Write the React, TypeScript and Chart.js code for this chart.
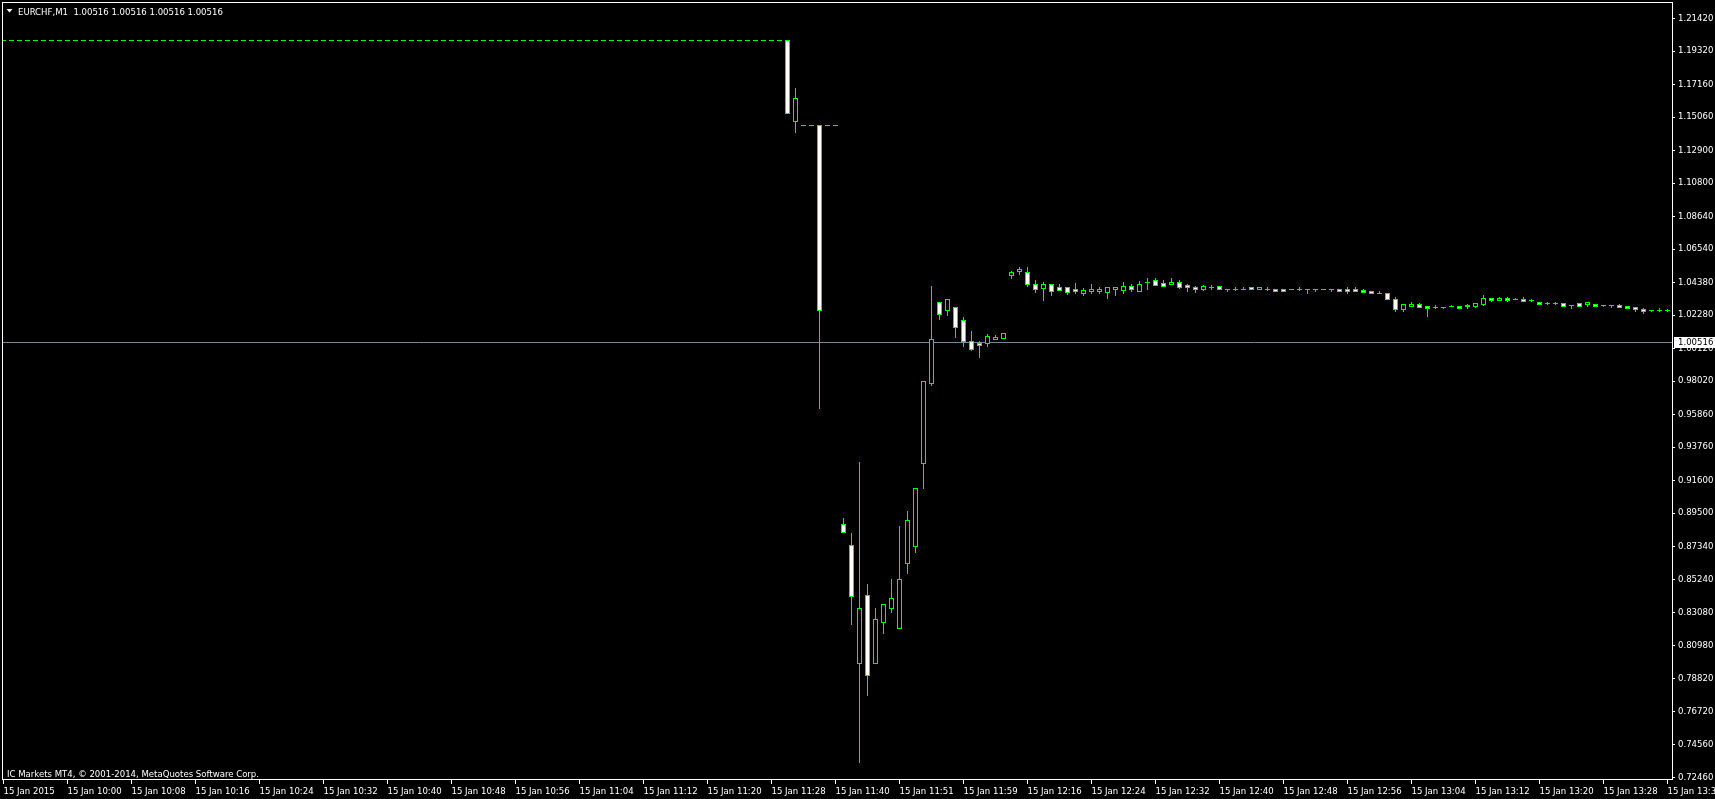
import React, { useEffect, useRef } from 'react';
import { Chart, registerables } from 'chart.js';

Chart.register(...registerables);

const SYMBOL_TITLE = 'EURCHF,M1  1.00516 1.00516 1.00516 1.00516';
const COPYRIGHT = 'IC Markets MT4, © 2001-2014, MetaQuotes Software Corp.';
const BID = 1.00516;

const TIME_LABELS = [
  '15 Jan 2015', '15 Jan 10:00', '15 Jan 10:08', '15 Jan 10:16', '15 Jan 10:24', '15 Jan 10:32',
  '15 Jan 10:40', '15 Jan 10:48', '15 Jan 10:56', '15 Jan 11:04', '15 Jan 11:12', '15 Jan 11:20',
  '15 Jan 11:28', '15 Jan 11:40', '15 Jan 11:51', '15 Jan 11:59', '15 Jan 12:16', '15 Jan 12:24',
  '15 Jan 12:32', '15 Jan 12:40', '15 Jan 12:48', '15 Jan 12:56', '15 Jan 13:04', '15 Jan 13:12',
  '15 Jan 13:20', '15 Jan 13:28', '15 Jan 13:36',
];
const BARS_PER_LABEL = 8;

const Y_TICKS = [
  1.2142, 1.1932, 1.1716, 1.1506, 1.129, 1.108, 1.0864, 1.0654, 1.0438, 1.0228, 1.0012, 0.9802,
  0.9586, 0.9376, 0.916, 0.895, 0.8734, 0.8524, 0.8308, 0.8098, 0.7882, 0.7672, 0.7456, 0.7246,
];
const Y_MIN = 0.72333;
const Y_MAX = 1.2242;

const OPEN = [
  1.2003, 1.2003, 1.2003, 1.2003, 1.2003, 1.2003, 1.2003, 1.2003, 1.2003, 1.2003, 1.2003, 1.2003, 1.2003, 1.2003,
  1.2003, 1.2003, 1.2003, 1.2003, 1.2003, 1.2003, 1.2003, 1.2003, 1.2003, 1.2003, 1.2003, 1.2003, 1.2003, 1.2003,
  1.2003, 1.2003, 1.2003, 1.2003, 1.2003, 1.2003, 1.2003, 1.2003, 1.2003, 1.2003, 1.2003, 1.2003, 1.2003, 1.2003,
  1.2003, 1.2003, 1.2003, 1.2003, 1.2003, 1.2003, 1.2003, 1.2003, 1.2003, 1.2003, 1.2003, 1.2003, 1.2003, 1.2003,
  1.2003, 1.2003, 1.2003, 1.2003, 1.2003, 1.2003, 1.2003, 1.2003, 1.2003, 1.2003, 1.2003, 1.2003, 1.2003, 1.2003,
  1.2003, 1.2003, 1.2003, 1.2003, 1.2003, 1.2003, 1.2003, 1.2003, 1.2003, 1.2003, 1.2003, 1.2003, 1.2003, 1.2003,
  1.2003, 1.2003, 1.2003, 1.2003, 1.2003, 1.2003, 1.2003, 1.2003, 1.2003, 1.2003, 1.2003, 1.2003, 1.2003, 1.2003,
  1.2003, 1.1478, 1.1453, 1.1453, 1.1453, 1.1453, 1.1453, 0.8877, 0.8742, 0.7980, 0.8419, 0.7980, 0.8242, 0.8333,
  0.8203, 0.8623, 0.8733, 0.9271, 0.9787, 1.0310, 1.0256, 1.0278, 1.0194, 1.0058, 1.0043, 1.0043, 1.0073, 1.0075,
  1.0482, 1.0510, 1.0504, 1.0426, 1.0398, 1.0426, 1.0403, 1.0407, 1.0390, 1.0366, 1.0377, 1.0377, 1.0372, 1.0396,
  1.0388, 1.0414, 1.0379, 1.0437, 1.0454, 1.0430, 1.0424, 1.0435, 1.0417, 1.0404, 1.0392, 1.0404, 1.0409, 1.0394,
  1.0394, 1.0394, 1.0403, 1.0390, 1.0394, 1.0396, 1.0396, 1.0394, 1.0394, 1.0394, 1.0392, 1.0394, 1.0394, 1.0396,
  1.0392, 1.0392, 1.0388, 1.0377, 1.0368, 1.0368, 1.0330, 1.0265, 1.0285, 1.0295, 1.0280, 1.0278, 1.0278, 1.0280,
  1.0285, 1.0280, 1.0285, 1.0295, 1.0336, 1.0321, 1.0334, 1.0327, 1.0330, 1.0321, 1.0310, 1.0301, 1.0304, 1.0302,
  1.0289, 1.0302, 1.0293, 1.0295, 1.0287, 1.0287, 1.0291, 1.0280, 1.0274, 1.0263, 1.0257, 1.0259, 1.0259,
];

const HIGH = [
  1.2003, 1.2003, 1.2003, 1.2003, 1.2003, 1.2003, 1.2003, 1.2003, 1.2003, 1.2003, 1.2003, 1.2003, 1.2003, 1.2003,
  1.2003, 1.2003, 1.2003, 1.2003, 1.2003, 1.2003, 1.2003, 1.2003, 1.2003, 1.2003, 1.2003, 1.2003, 1.2003, 1.2003,
  1.2003, 1.2003, 1.2003, 1.2003, 1.2003, 1.2003, 1.2003, 1.2003, 1.2003, 1.2003, 1.2003, 1.2003, 1.2003, 1.2003,
  1.2003, 1.2003, 1.2003, 1.2003, 1.2003, 1.2003, 1.2003, 1.2003, 1.2003, 1.2003, 1.2003, 1.2003, 1.2003, 1.2003,
  1.2003, 1.2003, 1.2003, 1.2003, 1.2003, 1.2003, 1.2003, 1.2003, 1.2003, 1.2003, 1.2003, 1.2003, 1.2003, 1.2003,
  1.2003, 1.2003, 1.2003, 1.2003, 1.2003, 1.2003, 1.2003, 1.2003, 1.2003, 1.2003, 1.2003, 1.2003, 1.2003, 1.2003,
  1.2003, 1.2003, 1.2003, 1.2003, 1.2003, 1.2003, 1.2003, 1.2003, 1.2003, 1.2003, 1.2003, 1.2003, 1.2003, 1.2003,
  1.2003, 1.1691, 1.1453, 1.1453, 1.1453, 1.1453, 1.1453, 0.8912, 0.8821, 0.9279, 0.8486, 0.8331, 0.8361, 0.8524,
  0.8860, 0.8957, 0.9110, 0.9800, 1.0415, 1.0310, 1.0330, 1.0278, 1.0215, 1.0119, 1.0060, 1.0104, 1.0093, 1.0110,
  1.0512, 1.0532, 1.0538, 1.0454, 1.0435, 1.0426, 1.0426, 1.0407, 1.0429, 1.0401, 1.0422, 1.0403, 1.0403, 1.0407,
  1.0435, 1.0424, 1.0446, 1.0461, 1.0467, 1.0454, 1.0461, 1.0448, 1.0424, 1.0411, 1.0417, 1.0417, 1.0409, 1.0394,
  1.0403, 1.0405, 1.0403, 1.0403, 1.0405, 1.0396, 1.0396, 1.0394, 1.0403, 1.0394, 1.0396, 1.0394, 1.0394, 1.0396,
  1.0403, 1.0405, 1.0394, 1.0377, 1.0383, 1.0368, 1.0343, 1.0297, 1.0306, 1.0301, 1.0280, 1.0287, 1.0278, 1.0287,
  1.0285, 1.0295, 1.0302, 1.0357, 1.0336, 1.0340, 1.0340, 1.0334, 1.0338, 1.0327, 1.0310, 1.0310, 1.0310, 1.0302,
  1.0289, 1.0302, 1.0312, 1.0295, 1.0287, 1.0287, 1.0297, 1.0280, 1.0274, 1.0267, 1.0257, 1.0267, 1.0265,
];

const LOW = [
  1.2003, 1.2003, 1.2003, 1.2003, 1.2003, 1.2003, 1.2003, 1.2003, 1.2003, 1.2003, 1.2003, 1.2003, 1.2003, 1.2003,
  1.2003, 1.2003, 1.2003, 1.2003, 1.2003, 1.2003, 1.2003, 1.2003, 1.2003, 1.2003, 1.2003, 1.2003, 1.2003, 1.2003,
  1.2003, 1.2003, 1.2003, 1.2003, 1.2003, 1.2003, 1.2003, 1.2003, 1.2003, 1.2003, 1.2003, 1.2003, 1.2003, 1.2003,
  1.2003, 1.2003, 1.2003, 1.2003, 1.2003, 1.2003, 1.2003, 1.2003, 1.2003, 1.2003, 1.2003, 1.2003, 1.2003, 1.2003,
  1.2003, 1.2003, 1.2003, 1.2003, 1.2003, 1.2003, 1.2003, 1.2003, 1.2003, 1.2003, 1.2003, 1.2003, 1.2003, 1.2003,
  1.2003, 1.2003, 1.2003, 1.2003, 1.2003, 1.2003, 1.2003, 1.2003, 1.2003, 1.2003, 1.2003, 1.2003, 1.2003, 1.2003,
  1.2003, 1.2003, 1.2003, 1.2003, 1.2003, 1.2003, 1.2003, 1.2003, 1.2003, 1.2003, 1.2003, 1.2003, 1.2003, 1.2003,
  1.1530, 1.1405, 1.1453, 1.1453, 0.9623, 1.1453, 1.1453, 0.8823, 0.8229, 0.7339, 0.7771, 0.7980, 0.8171, 0.8307,
  0.8203, 0.8559, 0.8694, 0.9107, 0.9772, 1.0202, 1.0228, 1.0086, 1.0028, 0.9998, 0.9953, 1.0022, 1.0073, 1.0075,
  1.0463, 1.0488, 1.0411, 1.0372, 1.0325, 1.0351, 1.0385, 1.0359, 1.0365, 1.0353, 1.0364, 1.0364, 1.0332, 1.0351,
  1.0364, 1.0379, 1.0379, 1.0396, 1.0417, 1.0411, 1.0424, 1.0398, 1.0379, 1.0372, 1.0385, 1.0396, 1.0392, 1.0379,
  1.0384, 1.0390, 1.0390, 1.0390, 1.0384, 1.0383, 1.0383, 1.0394, 1.0386, 1.0368, 1.0383, 1.0394, 1.0383, 1.0379,
  1.0370, 1.0379, 1.0372, 1.0366, 1.0368, 1.0330, 1.0249, 1.0252, 1.0285, 1.0278, 1.0217, 1.0269, 1.0269, 1.0280,
  1.0267, 1.0269, 1.0278, 1.0288, 1.0314, 1.0321, 1.0314, 1.0327, 1.0317, 1.0317, 1.0295, 1.0293, 1.0299, 1.0285,
  1.0271, 1.0285, 1.0286, 1.0280, 1.0280, 1.0278, 1.0278, 1.0270, 1.0250, 1.0241, 1.0250, 1.0250, 1.0252,
];

const CLOSE = [
  1.2003, 1.2003, 1.2003, 1.2003, 1.2003, 1.2003, 1.2003, 1.2003, 1.2003, 1.2003, 1.2003, 1.2003, 1.2003, 1.2003,
  1.2003, 1.2003, 1.2003, 1.2003, 1.2003, 1.2003, 1.2003, 1.2003, 1.2003, 1.2003, 1.2003, 1.2003, 1.2003, 1.2003,
  1.2003, 1.2003, 1.2003, 1.2003, 1.2003, 1.2003, 1.2003, 1.2003, 1.2003, 1.2003, 1.2003, 1.2003, 1.2003, 1.2003,
  1.2003, 1.2003, 1.2003, 1.2003, 1.2003, 1.2003, 1.2003, 1.2003, 1.2003, 1.2003, 1.2003, 1.2003, 1.2003, 1.2003,
  1.2003, 1.2003, 1.2003, 1.2003, 1.2003, 1.2003, 1.2003, 1.2003, 1.2003, 1.2003, 1.2003, 1.2003, 1.2003, 1.2003,
  1.2003, 1.2003, 1.2003, 1.2003, 1.2003, 1.2003, 1.2003, 1.2003, 1.2003, 1.2003, 1.2003, 1.2003, 1.2003, 1.2003,
  1.2003, 1.2003, 1.2003, 1.2003, 1.2003, 1.2003, 1.2003, 1.2003, 1.2003, 1.2003, 1.2003, 1.2003, 1.2003, 1.2003,
  1.1530, 1.1627, 1.1453, 1.1453, 1.0256, 1.1453, 1.1453, 0.8823, 0.8410, 0.8335, 0.7900, 0.8264, 0.8361, 0.8400,
  0.8522, 0.8903, 0.9110, 0.9800, 1.0071, 1.0233, 1.0330, 1.0146, 1.0056, 1.0004, 1.0030, 1.0091, 1.0086, 1.0110,
  1.0504, 1.0519, 1.0424, 1.0394, 1.0422, 1.0379, 1.0385, 1.0372, 1.0377, 1.0388, 1.0390, 1.0390, 1.0403, 1.0407,
  1.0415, 1.0392, 1.0422, 1.0437, 1.0417, 1.0411, 1.0435, 1.0407, 1.0404, 1.0392, 1.0409, 1.0404, 1.0392, 1.0394,
  1.0394, 1.0394, 1.0390, 1.0403, 1.0394, 1.0383, 1.0383, 1.0394, 1.0394, 1.0394, 1.0392, 1.0394, 1.0394, 1.0379,
  1.0381, 1.0383, 1.0372, 1.0366, 1.0368, 1.0330, 1.0265, 1.0297, 1.0297, 1.0278, 1.0269, 1.0278, 1.0278, 1.0280,
  1.0272, 1.0289, 1.0302, 1.0336, 1.0323, 1.0334, 1.0321, 1.0327, 1.0317, 1.0321, 1.0295, 1.0301, 1.0304, 1.0285,
  1.0289, 1.0285, 1.0306, 1.0285, 1.0287, 1.0287, 1.0278, 1.0270, 1.0261, 1.0252, 1.0257, 1.0259, 1.0259,
];

const LIME = '#00ff00';
const BEAR_FILL = '#ffffff';
const BULL_FILL = '#000000';
const BID_LINE = '#778899';
const AXIS_COLOR = '#ffffff';
const FONT_FAMILY = "'DejaVu Sans Condensed', 'DejaVu Sans', sans-serif";
const FONT_SIZE = 9.5;

const W = 1715;
const H = 799;

// Snap candle bodies and wicks to whole pixel rows, like a terminal chart does.
const pixelSnapPlugin = {
  id: 'pixelSnap',
  afterDatasetsUpdate(chart: any) {
    chart.data.datasets.forEach((_ds: any, di: number) => {
      const meta = chart.getDatasetMeta(di);
      meta.data.forEach((el: any) => {
        const top = Math.min(el.y, el.base);
        const bot = Math.max(el.y, el.base);
        const t = Math.floor(top);
        const b = Math.max(Math.floor(bot) + 1, t + 1);
        el.y = t;
        el.base = b;
        el.height = b - t;
      });
    });
  },
};

const mt4Plugin = {
  id: 'mt4Overlay',
  beforeDatasetsDraw(chart: any) {
    const { ctx, chartArea, scales } = chart;
    const y = Math.floor(scales.y.getPixelForValue(BID)) + 0.5;
    ctx.save();
    ctx.strokeStyle = BID_LINE;
    ctx.lineWidth = 1;
    ctx.beginPath();
    ctx.moveTo(chartArea.left - 1, y);
    ctx.lineTo(chartArea.right, y);
    ctx.stroke();
    ctx.restore();
  },
  afterDraw(chart: any) {
    const { ctx, chartArea: a, scales } = chart;
    ctx.save();
    ctx.strokeStyle = AXIS_COLOR;
    ctx.lineWidth = 1;
    ctx.strokeRect(a.left - 0.5, a.top - 0.5, a.right - a.left + 1, a.bottom - a.top + 1);
    ctx.fillStyle = AXIS_COLOR;
    ctx.beginPath();
    ctx.moveTo(6.5, 9);
    ctx.lineTo(12.5, 9);
    ctx.lineTo(9.5, 12.5);
    ctx.closePath();
    ctx.fill();
    ctx.font = `${FONT_SIZE}px ${FONT_FAMILY}`;
    ctx.textAlign = 'left';
    ctx.textBaseline = 'alphabetic';
    ctx.fillText(SYMBOL_TITLE, 18, 14.5);
    ctx.fillText(COPYRIGHT, 7, 777);
    const y = Math.floor(scales.y.getPixelForValue(BID)) + 0.5;
    ctx.fillStyle = '#ffffff';
    ctx.fillRect(a.right + 2, Math.round(y - 5.5), W - a.right - 2, 11);
    ctx.fillStyle = '#000000';
    ctx.textBaseline = 'middle';
    ctx.fillText(BID.toFixed(5), 1678, y + 0.5);
    ctx.restore();
  },
};

export default function App() {
  const canvasRef = useRef<HTMLCanvasElement | null>(null);

  useEffect(() => {
    document.body.style.margin = '0';
    document.body.style.background = '#000';
    document.body.style.overflow = 'hidden';
    const canvas = canvasRef.current;
    if (!canvas) return;

    const bodies = OPEN.map((o, i) => ({ x: i, y: [o, CLOSE[i]] }));
    const bodyFill = OPEN.map((o, i) => (CLOSE[i] < o ? BEAR_FILL : BULL_FILL));
    const wicks = HIGH.map((h, i) => ({ x: i, y: [LOW[i], h] }));

    const chart = new Chart(canvas, {
      type: 'bar',
      data: {
        datasets: [
          {
            label: 'body',
            data: bodies as any,
            backgroundColor: bodyFill,
            borderColor: LIME,
            borderWidth: 1,
            borderSkipped: false,
            barThickness: 5,
            grouped: false,
            inflateAmount: 0,
            order: 0,
          } as any,
          {
            label: 'wick',
            data: wicks as any,
            backgroundColor: LIME,
            borderWidth: 0,
            barThickness: 1,
            grouped: false,
            inflateAmount: 0,
            order: 1,
          } as any,
        ],
      },
      options: {
        animation: false,
        responsive: false,
        devicePixelRatio: 1,
        events: [],
        layout: { padding: { left: 3, top: 3, right: 0, bottom: 0 } },
        plugins: { legend: { display: false }, tooltip: { enabled: false } },
        scales: {
          x: {
            type: 'linear',
            position: 'bottom',
            min: -0.0625,
            max: 208.5625,
            offset: false,
            grid: {
              display: true,
              drawOnChartArea: false,
              drawTicks: true,
              tickLength: 5,
              color: AXIS_COLOR,
              offset: false,
            },
            border: { display: false },
            ticks: {
              autoSkip: false,
              maxRotation: 0,
              minRotation: 0,
              align: 'start',
              padding: 2,
              color: AXIS_COLOR,
              font: { family: FONT_FAMILY, size: FONT_SIZE },
              callback: (_v: any, index: number) => TIME_LABELS[index],
            },
            afterBuildTicks: (scale: any) => {
              scale.ticks = TIME_LABELS.map((_, i) => ({ value: i * BARS_PER_LABEL }));
            },
            afterFit: (scale: any) => {
              scale.height = 20;
              scale.paddingLeft = 0;
              scale.paddingRight = 0;
            },
          },
          y: {
            type: 'linear',
            position: 'right',
            min: Y_MIN,
            max: Y_MAX,
            beginAtZero: false,
            grid: {
              display: true,
              drawOnChartArea: false,
              drawTicks: true,
              tickLength: 3,
              color: AXIS_COLOR,
            },
            border: { display: false },
            ticks: {
              autoSkip: false,
              padding: 3,
              color: AXIS_COLOR,
              font: { family: FONT_FAMILY, size: FONT_SIZE },
              callback: (v: any) => Number(v).toFixed(5),
            },
            afterBuildTicks: (scale: any) => {
              scale.ticks = Y_TICKS.map((v) => ({ value: v }));
            },
            afterFit: (scale: any) => {
              scale.width = 43;
              scale.paddingTop = 0;
              scale.paddingBottom = 0;
            },
          },
        },
      } as any,
      plugins: [pixelSnapPlugin, mt4Plugin],
    });

    return () => chart.destroy();
  }, []);

  return (
    <div style={{ width: W, height: H, background: '#000', overflow: 'hidden' }}>
      <canvas ref={canvasRef} width={W} height={H} style={{ display: 'block' }} />
    </div>
  );
}
